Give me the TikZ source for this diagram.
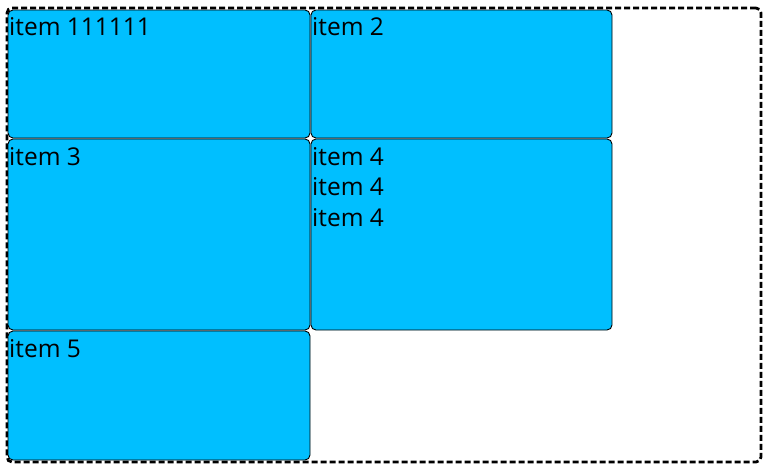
\documentclass[tikz,border=0pt]{standalone}
\usepackage{fontspec}
\setmainfont{Open Sans}
\definecolor{deepsky}{HTML}{00BFFF}
\begin{document}
\begin{tikzpicture}[x=1pt,y=-1pt,
  itembox/.style={draw=black, line width=0.9pt, fill=deepsky, rounded corners=5pt,
    inner sep=0pt, outer sep=0pt, anchor=north west},
  lbl/.style={anchor=base west, inner sep=0pt, align=left,
    font=\fontsize{24.5}{30.5}\selectfont},
  frame/.style={draw=black, line width=2.8pt, dash pattern=on 6pt off 3pt,
    rounded corners=5pt, inner sep=0pt, outer sep=0pt, anchor=north west}]
\useasboundingbox (0,0) rectangle (767,472);
\node[frame, minimum width=754pt, minimum height=454pt] (outer) at (7,8) {};
\node[itembox, minimum width=302pt, minimum height=128pt] (b1) at (8,10) {};
\node[itembox, minimum width=301pt, minimum height=128pt] (b2) at (311,10) {};
\node[itembox, minimum width=302pt, minimum height=191pt] (b3) at (8,139) {};
\node[itembox, minimum width=301pt, minimum height=191pt] (b4) at (311,139) {};
\node[itembox, minimum width=302pt, minimum height=129pt] (b5) at (8,331) {};
\node[lbl] (t1) at (9,35) {item 111111};
\node[lbl] (t2) at (312,35) {item 2};
\node[lbl] (t3) at (9,165) {item 3};
\node[lbl] (t4) at (312,226) {item 4\\item 4\\item 4};
\node[lbl] (t5) at (9,357) {item 5};
\end{tikzpicture}
\end{document}
